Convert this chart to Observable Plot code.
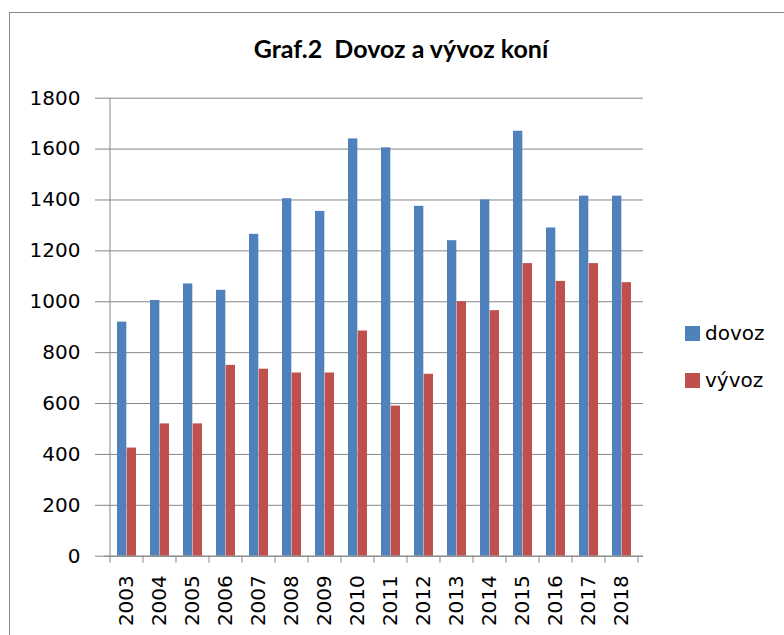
<!DOCTYPE html>
<html>
<head>
<meta charset="utf-8">
<script src="https://cdn.jsdelivr.net/npm/d3@7"></script>
<script src="https://cdn.jsdelivr.net/npm/@observablehq/plot@0.6"></script>
<style>
  html, body { margin: 0; padding: 0; background: #fff; }
  #wrap { position: relative; width: 784px; height: 635px; overflow: hidden; background: #fff; }
  #border { position: absolute; left: 9px; top: 12px; width: 900px; height: 800px;
            border-left: 1px solid #8a8a8a; border-top: 1px solid #8a8a8a; }
  #title { position: absolute; left: 0; width: 802px; top: 36px; text-align: center;
           font-family: "Lato", sans-serif; font-weight: 700; font-size: 25px; line-height: 25px; color: #000; }
  #chart { position: absolute; left: 0; top: 0; }
  .leg { position: absolute; left: 685px; font-family: "DejaVu Sans", sans-serif; font-size: 20px; line-height: 20px; color: #000; white-space: nowrap; }
  .sw { position: absolute; left: 0; width: 15px; height: 15px; }
  .lt { position: absolute; left: 20px; top: 0; }
</style>
</head>
<body>
<div id="wrap">
  <div id="border"></div>
  <div id="chart"></div>
  <div id="title"></div>
  <div id="legend"></div>
</div>
<script>
const titleText = "Graf.2\u00a0 Dovoz a vývoz koní";
const years = ["2003","2004","2005","2006","2007","2008","2009","2010","2011","2012","2013","2014","2015","2016","2017","2018"];
const dovoz = [920, 1005, 1070, 1045, 1265, 1405, 1355, 1640, 1605, 1375, 1240, 1400, 1670, 1290, 1415, 1415];
const vyvoz = [425, 520, 520, 750, 735, 720, 720, 885, 590, 715, 1000, 965, 1150, 1080, 1150, 1075];
const seriesNames = ["dovoz", "vývoz"];
const seriesColors = ["#4F81BD", "#C0504D"];
const yTicks = [0, 200, 400, 600, 800, 1000, 1200, 1400, 1600, 1800];

const data = years.flatMap((y, i) => [
  {year: y, series: seriesNames[0], value: dovoz[i]},
  {year: y, series: seriesNames[1], value: vyvoz[i]}
]);

const W = 784, H = 635, mL = 104, mR = 141, mT = 97.7, mB = 79.3;
const pIn = 0.425, pOut = 0.2125;
const step = (W - mL - mR) / (years.length - pIn + 2 * pOut);
const half = step * (1 - pIn) / 2;

const plot = Plot.plot({
  width: W, height: H,
  marginLeft: mL, marginRight: mR, marginTop: mT, marginBottom: mB,
  style: {fontFamily: "'DejaVu Sans', sans-serif", fontSize: "20px", color: "#000", background: "transparent", overflow: "visible"},
  x: {domain: years, paddingInner: pIn, paddingOuter: pOut, label: null},
  y: {domain: [0, 1800], label: null},
  color: {domain: seriesNames, range: seriesColors},
  marks: [
    Plot.gridY(yTicks, {stroke: "#868686", strokeOpacity: 1}),
    Plot.axisY(yTicks, {tickSize: 9, tickPadding: 15, stroke: "#868686", fill: "#000", tickFormat: d => String(d), label: null}),
    Plot.axisX({tickSize: 0, tickRotate: -90, tickPadding: 19, fill: "#000", label: null}),
    Plot.barY(data, {filter: d => d.series === seriesNames[0], x: "year", y: "value", fill: "series", insetRight: half}),
    Plot.barY(data, {filter: d => d.series === seriesNames[1], x: "year", y: "value", fill: "series", insetLeft: half}),
    Plot.ruleY([0], {stroke: "#868686"})
  ]
});

// category boundary ticks and the left axis line, positioned from Plot's own scales
const sx = plot.scale("x"), sy = plot.scale("y");
const y0 = sy.apply(0), yTop = sy.apply(1800);
const gap = sx.step * pIn / 2;
const bounds = years.map(y => sx.apply(y) - gap).concat([sx.apply(years[years.length - 1]) + sx.bandwidth + gap]);
const g = d3.select(plot).append("g").attr("stroke", "#868686").attr("stroke-width", 1);
g.selectAll("line.bt").data(bounds).join("line")
  .attr("x1", d => d).attr("x2", d => d).attr("y1", y0).attr("y2", y0 + 7);
g.append("line").attr("x1", bounds[0]).attr("x2", bounds[0]).attr("y1", yTop).attr("y2", y0);

document.getElementById("chart").appendChild(plot);
document.getElementById("title").textContent = titleText;

const legTops = [323, 370];
const legend = document.getElementById("legend");
seriesNames.forEach((name, i) => {
  const item = document.createElement("div");
  item.className = "leg";
  item.style.top = legTops[i] + "px";
  const sw = document.createElement("div");
  sw.className = "sw";
  sw.style.background = seriesColors[i];
  sw.style.top = "3px";
  const t = document.createElement("div");
  t.className = "lt";
  t.textContent = name;
  item.appendChild(sw); item.appendChild(t);
  legend.appendChild(item);
});
</script>
</body>
</html>
